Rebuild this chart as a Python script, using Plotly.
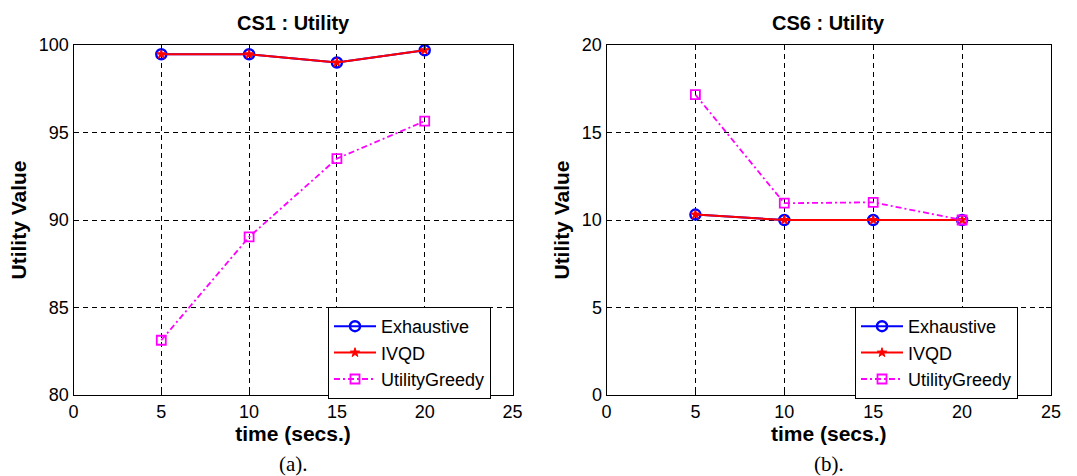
import plotly.graph_objects as go

# time axis (seconds)
time_s = [5, 10, 15, 20]

# CS1 utility values
cs1_exhaustive = [99.47, 99.47, 99.0, 99.7]
cs1_ivqd = [99.47, 99.47, 99.0, 99.7]
cs1_greedy = [83.13, 89.03, 93.51, 95.65]

# CS6 utility values
cs6_exhaustive = [10.31, 10.0, 10.0, 10.0]
cs6_ivqd = [10.31, 10.0, 10.0, 10.0]
cs6_greedy = [17.16, 10.96, 11.01, 10.0]

panel_titles = ["CS1 : Utility", "CS6 : Utility"]
captions = ["(a).", "(b)."]
series_names = ["Exhaustive", "IVQD", "UtilityGreedy"]

FONT = "Liberation Sans, Arial, sans-serif"
W, H = 1077, 476

fig = go.Figure()

panels = [
    dict(ex=cs1_exhaustive, iv=cs1_ivqd, gr=cs1_greedy, xa="x", ya="y",
         legend="legend", yrange=[80, 100], ydtick=5),
    dict(ex=cs6_exhaustive, iv=cs6_ivqd, gr=cs6_greedy, xa="x2", ya="y2",
         legend="legend2", yrange=[0, 20], ydtick=5),
]

for p in panels:
    fig.add_trace(go.Scatter(
        x=time_s, y=p["ex"], name=series_names[0], mode="lines+markers",
        line=dict(color="#0000ff", width=2),
        marker=dict(symbol="circle-open", size=10, color="#0000ff",
                    line=dict(width=2.5, color="#0000ff")),
        xaxis=p["xa"], yaxis=p["ya"], legend=p["legend"], legendgroup="a" + p["xa"]))
    fig.add_trace(go.Scatter(
        x=time_s, y=p["iv"], name=series_names[1], mode="lines+markers",
        line=dict(color="#ff0000", width=2),
        marker=dict(symbol="star", size=7, color="#ff0000",
                    line=dict(width=1, color="#ff0000")),
        xaxis=p["xa"], yaxis=p["ya"], legend=p["legend"], legendgroup="b" + p["xa"]))
    fig.add_trace(go.Scatter(
        x=time_s, y=p["gr"], name=series_names[2], mode="lines+markers",
        line=dict(color="#ff00ff", width=1.8, dash="6px,3px,2px,3px"),
        marker=dict(symbol="square-open", size=9, color="#ff00ff",
                    line=dict(width=1.8, color="#ff00ff")),
        xaxis=p["xa"], yaxis=p["ya"], legend=p["legend"], legendgroup="c" + p["xa"]))

# plot-area placement in pixels
left_px = [(73.5, 512.5), (606.5, 1051)]
top_px, bot_px = 45, 395
ydom = [1 - bot_px / H, 1 - top_px / H]

axis_common = dict(
    showline=True, linecolor="black", linewidth=1, mirror="allticks",
    ticks="inside", ticklen=5, tickcolor="black", automargin=False,
    showgrid=True, gridcolor="black", gridwidth=1, griddash="5px,4px",
    zeroline=False, tickfont=dict(family=FONT, size=18, color="black"),
)

layout = dict(
    width=W, height=H, margin=dict(l=0, r=0, t=0, b=0, autoexpand=False),
    paper_bgcolor="white", plot_bgcolor="white",
    font=dict(family=FONT, color="black"),
)

for i, p in enumerate(panels):
    sfx = "" if i == 0 else "2"
    xd = [left_px[i][0] / W, left_px[i][1] / W]
    layout["xaxis" + sfx] = dict(
        axis_common, domain=xd, range=[0, 25], dtick=5, anchor="y" + sfx,
        title=dict(text="<b>time (secs.)</b>", font=dict(family=FONT, size=21), standoff=0),
    )
    layout["yaxis" + sfx] = dict(
        axis_common, domain=ydom, range=p["yrange"], dtick=p["ydtick"], anchor="x" + sfx,
        title=dict(text="<b>Utility Value</b>", font=dict(family=FONT, size=21), standoff=6),
    )
    legend_key = "legend" if i == 0 else "legend2"
    layout[legend_key] = dict(
        x=(328 if i == 0 else 855) / W, y=1 - 307 / H, xanchor="left", yanchor="top",
        xref="paper", yref="paper",
        bgcolor="white", bordercolor="black", borderwidth=1,
        font=dict(family=FONT, size=18, color="black"),
        traceorder="grouped", tracegroupgap=0, itemwidth=42,
    )

fig.update_layout(**layout)

# panel titles and captions
for i in range(2):
    cx = (left_px[i][0] + left_px[i][1]) / 2 / W
    fig.add_annotation(
        text="<b>" + panel_titles[i] + "</b>", x=cx, y=1 - 23 / H, xref="paper", yref="paper",
        showarrow=False, font=dict(family=FONT, size=20, color="black"),
        xanchor="center", yanchor="middle")
    fig.add_annotation(
        text=captions[i], x=cx, y=1 - 464 / H, xref="paper", yref="paper",
        showarrow=False, font=dict(family="Liberation Serif, Times New Roman, serif", size=21, color="black"),
        xanchor="center", yanchor="middle")

fig.write_html("out.html")
